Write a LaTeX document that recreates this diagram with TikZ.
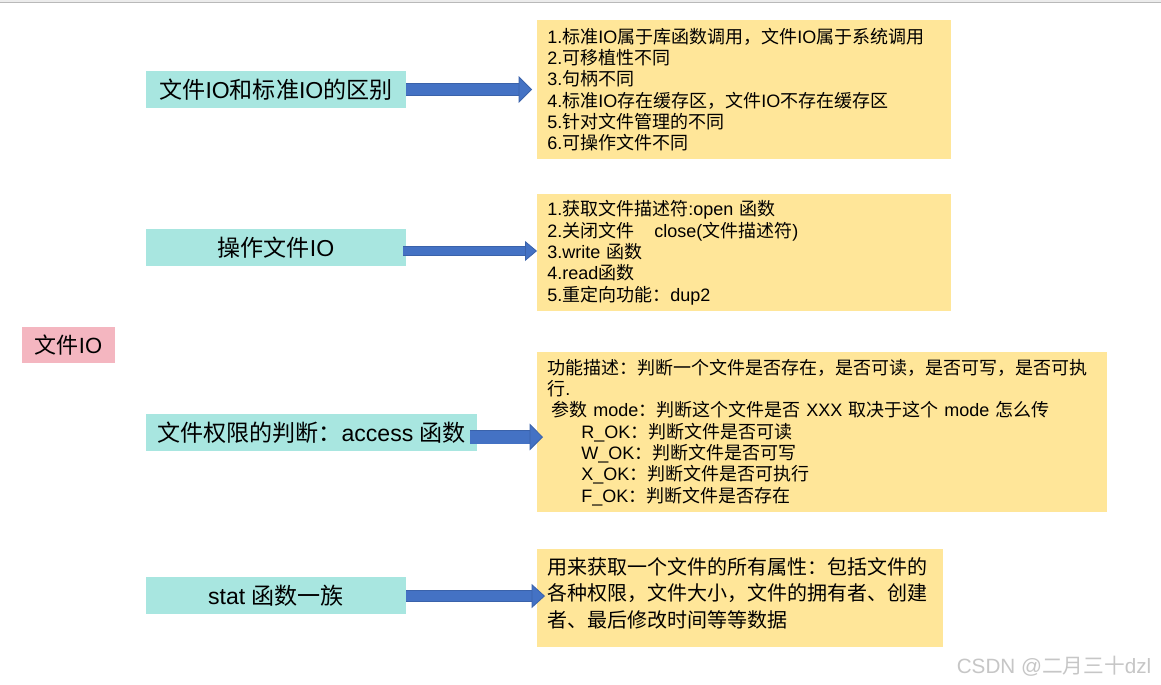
\documentclass[tikz,border=0pt]{standalone}
\usepackage{fontspec}
\setmainfont{Liberation Sans}
\newfontfamily\cjkfont{Noto Sans CJK SC}
\newcommand\latinfont{\rmfamily}
\usepackage{xcolor}
\usetikzlibrary{arrows.meta,calc}

\newXeTeXintercharclass\cjkclass
\newcount\cjkcnt
\newcommand\markcjk[2]{\cjkcnt=#1\relax
  \loop\XeTeXcharclass\cjkcnt=\cjkclass
    \ifnum\cjkcnt<#2\advance\cjkcnt by 1\repeat}
\markcjk{"3000}{"303F}
\markcjk{"4E00}{"9FFF}
\markcjk{"FF00}{"FFEF}
\XeTeXinterchartoks 0 \cjkclass={\cjkfont}
\XeTeXinterchartoks 4095 \cjkclass={\cjkfont}
\XeTeXinterchartoks \cjkclass 0={\latinfont}
\XeTeXinterchartoks 4095 0={\latinfont}
\XeTeXinterchartokenstate=1

\definecolor{TopicTeal}{HTML}{A8E6E0}
\definecolor{RootPink}{HTML}{F4B6C0}
\definecolor{NoteGold}{HTML}{FFE699}
\definecolor{ArrowBlue}{HTML}{4472C4}
\definecolor{ArrowEdge}{HTML}{3A62AA}
\definecolor{MarkGray}{HTML}{C6C6C6}
\newdimen\px \px=0.75pt

\begin{document}
\begin{tikzpicture}[
  x=0.75pt,y=-0.75pt,
  every node/.style={inner sep=0pt,text=black},
  topic/.style={fill=TopicTeal,minimum width=260\px,minimum height=37\px,font=\fontsize{17.3}{20}\selectfont},
  root/.style={fill=RootPink,minimum width=93\px,minimum height=36\px,font=\fontsize{16.5}{20}\selectfont},
  note/.style={fill=NoteGold,anchor=north west,inner xsep=10\px,align=left,font=\fontsize{13.5}{16}\selectfont},
  arr/.style n args={3}{draw=ArrowBlue,line width=#1,
    -{Triangle[length=#3,width=#2,line width=0.6pt,fill=ArrowBlue,color=ArrowEdge]},
    preaction={draw=ArrowEdge,arrows=-,line width=#1+1.2pt,shorten >=#3}}
]
  \useasboundingbox (0,0) rectangle (1161,685);
  \fill[white] (0,0) rectangle (1161,685);
  \fill[gray!15] (0,0) rectangle (1161,2);
  \draw[gray!55,line width=0.6pt] (0,2.3) -- (1161,2.3);

  \node[root] (root) at (68.5,345) {文件IO};

  \node[topic] (diff) at (276,89.5) {文件IO和标准IO的区别};
  \node[topic] (ops) at (276,247.5) {操作文件IO};
  \node[topic,minimum width=331\px] (access) at (311.5,432.5) {文件权限的判断：access 函数};
  \node[topic] (stat) at (276,595.5) {stat 函数一族};

  \node[note,text width=394\px,minimum height=139\px] (diffinfo) at (537,20) {1.标准IO属于库函数调用，文件IO属于系统调用\\
    2.可移植性不同\\
    3.句柄不同\\
    4.标准IO存在缓存区，文件IO不存在缓存区\\
    5.针对文件管理的不同\\
    6.可操作文件不同};
  \node[note,text width=394\px,minimum height=117\px] (opsinfo) at (537,194) {1.获取文件描述符:open 函数\\
    2.关闭文件\hspace{15pt}close(文件描述符)\\
    3.write 函数\\
    4.read函数\\
    5.重定向功能：dup2};
  \node[note,text width=550\px,minimum height=160\px] (accessinfo) at (537,352) {功能描述：判断一个文件是否存在，是否可读，是否可写，是否可执\\
    行.\\
    \hspace*{3pt}参数 mode：判断这个文件是否 XXX 取决于这个 mode 怎么传\\
    \hspace*{25.5pt}R\_OK：判断文件是否可读\\
    \hspace*{25.5pt}W\_OK：判断文件是否可写\\
    \hspace*{25.5pt}X\_OK：判断文件是否可执行\\
    \hspace*{25.5pt}F\_OK：判断文件是否存在};
  \node[note,font=\fontsize{15}{20}\selectfont] (statinfo) at (537,549) {\parbox[t][98\px][t]{386\px}{\vspace*{6pt}用来获取一个文件的所有属性：包括文件的\\
    各种权限，文件大小，文件的拥有者、创建\\
    者、最后修改时间等等数据}};

  \draw[arr={7.9pt}{20pt}{10pt}] (diff.east) -- ([xshift=-3.75pt]diff.east -| diffinfo.west);
  \draw[arr={6pt}{15pt}{9pt}] ([yshift=-2.6pt,xshift=-2.25pt]ops.east) -- ([yshift=-2.6pt]ops.east -| opsinfo.west);
  \draw[arr={9.75pt}{20pt}{10pt}] ([yshift=-3.4pt,xshift=-5.25pt]access.east) -- ([shift={(4.5pt,-3.4pt)}]access.east -| accessinfo.west);
  \draw[arr={7.5pt}{18pt}{10pt}] ([yshift=-0.4pt]stat.east) -- ([shift={(6pt,-0.4pt)}]stat.east -| statinfo.west);

  \node[text=MarkGray,font=\fontsize{15.5}{18}\selectfont] (mark) at (1054,666) {CSDN @二月三十dzl};
\end{tikzpicture}
\end{document}
